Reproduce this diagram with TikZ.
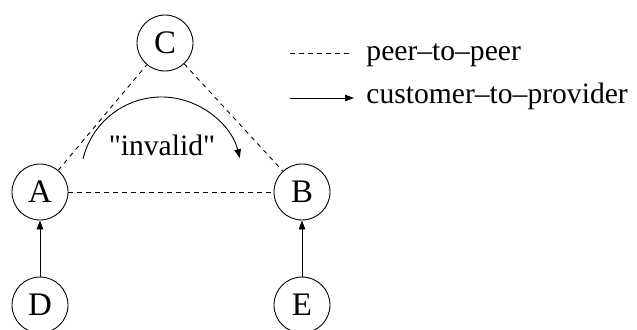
\documentclass[tikz,border=0pt]{standalone}
\usepackage{fontspec}
\setmainfont{Liberation Serif}[Ligatures=TeXOff]
\usetikzlibrary{arrows.meta}
\begin{document}
\begin{tikzpicture}[x=1bp,y=1bp,
  line width=0.9bp,
  as/.style={circle,draw,minimum size=56bp,inner sep=0pt,
             font=\fontsize{33}{36}\selectfont},
  peer/.style={dashed,dash pattern=on 4.5bp off 4.5bp},
  c2p/.style={-{Triangle[length=9bp,width=6.5bp]}},
  lbl/.style={font=\fontsize{29.7}{34}\selectfont,inner sep=0pt}]
  \useasboundingbox (0,0) rectangle (637,329);

  % autonomous systems
  \node[as] (C) at (165,286) {C};
  \node[as] (A) at (40,137) {A};
  \node[as] (B) at (302,137) {B};
  \node[as] (D) at (40,24) {D};
  \node[as] (E) at (302,24) {E};

  % peering links
  \draw[peer] (A) -- (C);
  \draw[peer] (C) -- (B);
  \draw[peer] (A) -- (B);

  % customer-to-provider links
  \draw[c2p] (D) -- (A);
  \draw[c2p] (E) -- (B);

  % the invalid path A -> B
  \coordinate (arcstart) at (83,170);
  \draw[c2p] (arcstart) arc[start angle=166.6,end angle=14,radius=80.7];
  \node[lbl,anchor=base] (inv) at (162,174) {"invalid"};

  % legend
  \coordinate (l1a) at (290,276);
  \coordinate (l1b) at (353,276);
  \coordinate (l2a) at (290,231);
  \coordinate (l2b) at (354,231);
  \draw[peer] (l1a) -- (l1b);
  \draw[c2p] (l2a) -- (l2b);
  \node[lbl,anchor=base west] (t1) at (366,269) {peer–to–peer};
  \node[lbl,anchor=base west] (t2) at (366,226) {customer–to–provider};
\end{tikzpicture}
\end{document}
